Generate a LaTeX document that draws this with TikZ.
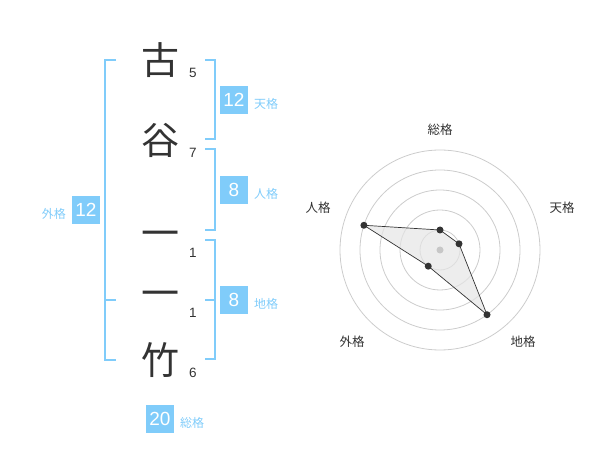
\documentclass[tikz,border=0pt]{standalone}
\usepackage{fontspec}
\setmainfont{Liberation Sans}
\newfontfamily\jp{Noto Sans CJK JP}
\usepackage{tikz}
\usetikzlibrary{calc}
\definecolor{kakublue}{RGB}{128,204,250}
\definecolor{ink}{RGB}{51,51,51}
\tikzset{
  kanji/.style={font=\jp\fontsize{38}{38}\selectfont, text=ink, inner sep=0},
  strokes/.style={font=\fontsize{13.5}{13.5}\selectfont, text=ink, inner sep=0},
  score/.style={fill=kakublue, text=white, minimum size=28pt, inner sep=0, font=\fontsize{19}{19}\selectfont},
  kaku/.style={font=\jp\fontsize{12}{12}\selectfont, text=kakublue, inner sep=0},
  axis/.style={font=\jp\fontsize{12.5}{12.5}\selectfont, text=ink, inner sep=0},
  bracket/.style={draw=kakublue, line width=2pt},
  ring/.style={draw=black!20, line width=0.8pt},
  dot/.style={fill=ink}
}

\begin{document}
\begin{tikzpicture}[x=1pt, y=-1pt]
  \useasboundingbox (0, 0) rectangle (600, 470);

  \node [kanji] (c1) at (160, 60) {古};
  \node [kanji] (c2) at (160, 140) {谷};
  \node [kanji] (c3) at (160, 239) {一};
  \node [kanji] (c4) at (160, 299) {一};
  \node [kanji] (c5) at (160, 360) {竹};

  \node [strokes] (n1) at (193, 73) {5};
  \node [strokes] (n2) at (193, 153) {7};
  \node [strokes] (n3) at (193, 253) {1};
  \node [strokes] (n4) at (193, 313) {1};
  \node [strokes] (n5) at (193, 373) {6};

  \draw [bracket] (116, 60) -- (105, 60) -- (105, 360) -- (116, 360);
  \draw [bracket] (105, 300) -- (116, 300);
  \draw [bracket] (205, 60) -- (215, 60) -- (215, 139) -- (205, 139);
  \draw [bracket] (205, 149) -- (215, 149) -- (215, 230) -- (205, 230);
  \draw [bracket] (205, 240) -- (215, 240) -- (215, 359) -- (205, 359);
  \draw [bracket] (205, 300) -- (215, 300);

  \node [score] (ten) at (234, 100) {12};
  \node [kaku, anchor=west] (tenl) at (254, 104) {天格};
  \node [score] (jin) at (234, 190) {8};
  \node [kaku, anchor=west] (jinl) at (254, 194) {人格};
  \node [score] (chi) at (234, 300) {8};
  \node [kaku, anchor=west] (chil) at (254, 304) {地格};
  \node [score] (gai) at (86, 210) {12};
  \node [kaku, anchor=east] (gail) at (66, 214) {外格};
  \node [score] (sou) at (160, 419) {20};
  \node [kaku, anchor=west] (soul) at (180, 423) {総格};

  % radar
  \coordinate (ctr) at (440, 250);
  \foreach \r in {20, 40, 60, 80, 100}
    \draw [ring] (ctr) circle (\r);

  \coordinate (psou) at ($(ctr) + (-90:20)$);
  \coordinate (pten) at ($(ctr) + (-18:20)$);
  \coordinate (pchi) at ($(ctr) + (54:80)$);
  \coordinate (pgai) at ($(ctr) + (126:20)$);
  \coordinate (pjin) at ($(ctr) + (198:80)$);

  \draw [fill=black!10, fill opacity=0.7, draw=ink, line width=0.7pt]
    (psou) -- (pten) -- (pchi) -- (pgai) -- (pjin) -- cycle;
  \fill [black!22] (ctr) circle (3.5);
  \foreach \p in {psou, pten, pchi, pgai, pjin}
    \fill [dot] (\p) circle (3.5);

  \node [axis] (asou) at (440, 130) {総格};
  \node [axis] (aten) at (562, 208) {天格};
  \node [axis] (ajin) at (318, 208) {人格};
  \node [axis] (agai) at (352, 342) {外格};
  \node [axis] (achi) at (523, 342) {地格};
\end{tikzpicture}
\end{document}
